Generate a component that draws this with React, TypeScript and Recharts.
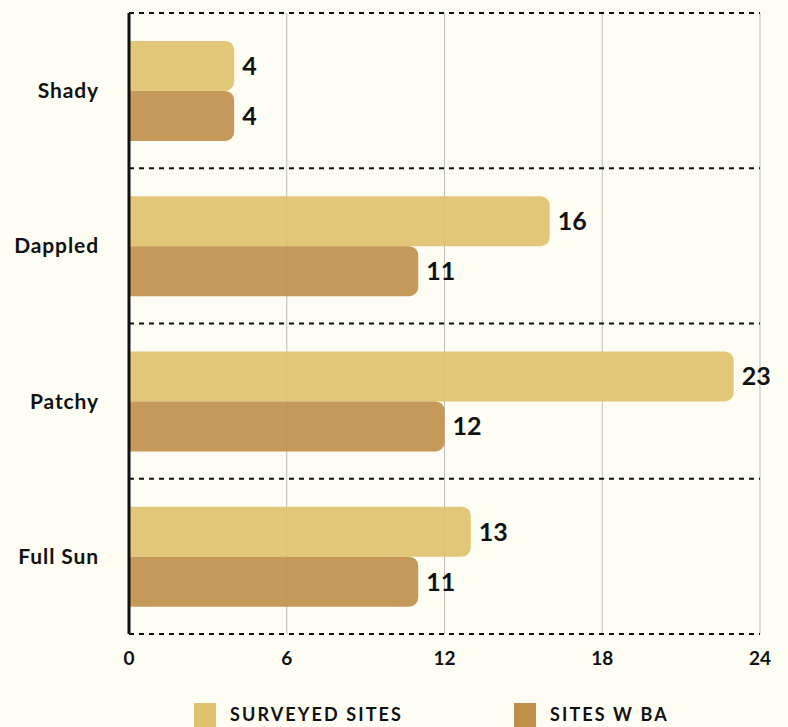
import React from "react";
import { BarChart, Bar, XAxis, YAxis, CartesianGrid, Legend, LabelList } from "recharts";

const categories = ["Shady", "Dappled", "Patchy", "Full Sun"];
const surveyedSites = [4, 16, 23, 13];
const sitesWithBA = [4, 11, 12, 11];
const xTicks = [0, 6, 12, 18, 24];
const seriesNames = ["SURVEYED SITES", "SITES W BA"];
const seriesColors = ["#DFC26C", "#C0904B"];

const data = categories.map((c, i) => ({
  category: c,
  surveyed: surveyedSites[i],
  ba: sitesWithBA[i],
}));

const FONT = "Lato, 'Open Sans', sans-serif";

const LegendContent = () => (
  <div style={{ position: "relative", height: 45, fontFamily: FONT }}>
    {seriesNames.map((n, i) => (
      <div
        key={n}
        style={{
          position: "absolute",
          left: i === 0 ? 194 : 514,
          top: 21,
          display: "flex",
          alignItems: "flex-start",
        }}
      >
        <div style={{ width: 22, height: 24, background: seriesColors[i] }} />
        <span
          style={{
            marginLeft: 14,
            fontSize: 18,
            fontWeight: 700,
            letterSpacing: 2.1,
            color: "#111",
            lineHeight: "20px",
            marginTop: 1,
            whiteSpace: "nowrap",
          }}
        >
          {n}
        </span>
      </div>
    ))}
  </div>
);

export default function App() {
  return (
    <div style={{ position: "absolute", left: 0, top: 0, width: 788, height: 727, background: "#FDFDF4" }}>
      <BarChart
        width={788}
        height={727}
        data={data}
        layout="vertical"
        margin={{ top: 13, right: 28, left: 0, bottom: 0 }}
        barCategoryGap="18%"
        barGap={0}
      >
        <CartesianGrid horizontal={false} vertical={true} stroke="#BDBDBD" strokeWidth={1} />
        <CartesianGrid
          vertical={false}
          horizontal={true}
          stroke="#111"
          strokeWidth={2}
          strokeDasharray="5 5"
          horizontalCoordinatesGenerator={({ offset }: any) =>
            [0, 1, 2, 3, 4].map((i) => offset.top + (i * offset.height) / 4)
          }
        />
        <XAxis
          type="number"
          domain={[0, 24]}
          ticks={xTicks}
          axisLine={false}
          tickLine={false}
          tickSize={0}
          tickMargin={18}
          height={48}
          tick={{ fill: "#111", fontSize: 19, fontWeight: 700, fontFamily: FONT }}
        />
        <YAxis
          type="category"
          dataKey="category"
          width={129}
          axisLine={{ stroke: "#111", strokeWidth: 3 }}
          tickLine={false}
          tickSize={0}
          tickMargin={30}
          tick={{ fill: "#111", fontSize: 21, fontWeight: 700, fontFamily: FONT, letterSpacing: 0.9 } as any}
        />
        <Legend verticalAlign="bottom" height={45} content={<LegendContent />} />
        <Bar dataKey="surveyed" name={seriesNames[0]} fill={seriesColors[0]} fillOpacity={0.92} radius={[0, 9, 9, 0]} isAnimationActive={false}>
          <LabelList dataKey="surveyed" position="right" offset={8} style={{ fill: "#111", fontSize: 25, fontWeight: 700, fontFamily: FONT }} />
        </Bar>
        <Bar dataKey="ba" name={seriesNames[1]} fill={seriesColors[1]} fillOpacity={0.92} radius={[0, 9, 9, 0]} isAnimationActive={false}>
          <LabelList dataKey="ba" position="right" offset={8} style={{ fill: "#111", fontSize: 25, fontWeight: 700, fontFamily: FONT }} />
        </Bar>
      </BarChart>
    </div>
  );
}
